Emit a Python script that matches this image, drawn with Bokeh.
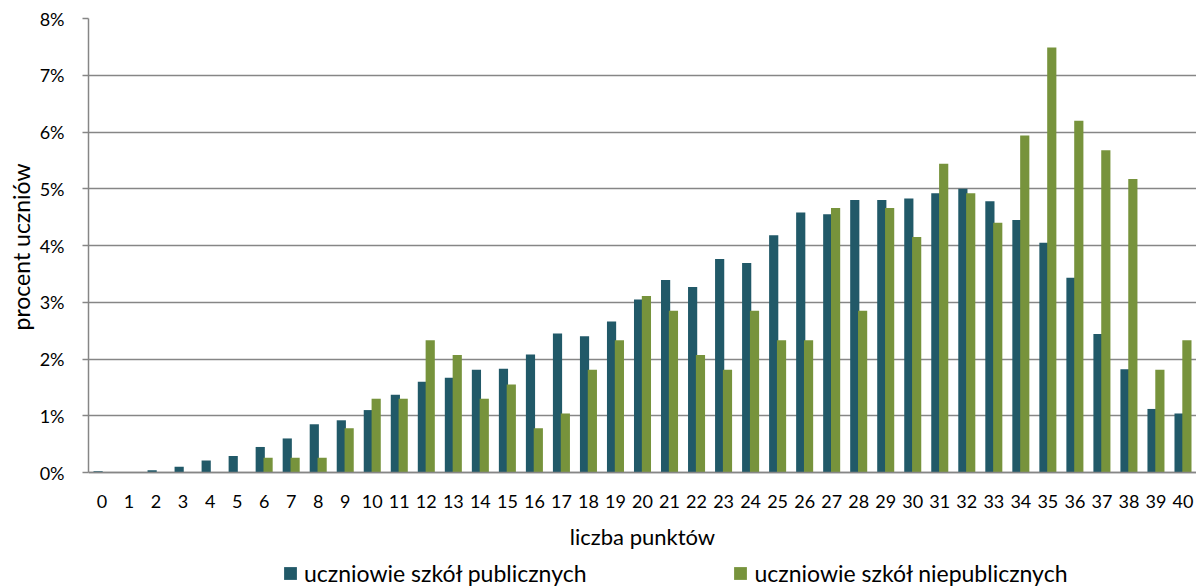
from bokeh.plotting import figure
from bokeh.models import ColumnDataSource, FactorRange, Range1d, FixedTicker, PrintfTickFormatter, Legend, LegendItem, Title
from bokeh.transform import dodge
from bokeh.embed import file_html
from bokeh.resources import INLINE

points = [str(i) for i in range(41)]
public = [0.02, 0.01, 0.04, 0.10, 0.21, 0.29, 0.45, 0.60, 0.85, 0.92,
          1.10, 1.37, 1.60, 1.67, 1.81, 1.83, 2.08, 2.45, 2.40, 2.66,
          3.05, 3.39, 3.27, 3.76, 3.69, 4.18, 4.58, 4.55, 4.80, 4.80,
          4.83, 4.92, 5.00, 4.78, 4.45, 4.05, 3.43, 2.44, 1.82, 1.12, 1.04]
nonpublic = [0, 0, 0, 0, 0, 0, 0.26, 0.26, 0.26, 0.78,
             1.30, 1.30, 2.33, 2.07, 1.30, 1.55, 0.78, 1.04, 1.81, 2.33,
             3.11, 2.85, 2.07, 1.81, 2.85, 2.33, 2.33, 4.66, 2.85, 4.66,
             4.15, 5.44, 4.92, 4.40, 5.94, 7.49, 6.20, 5.68, 5.17, 1.81, 2.33]
y_ticks = [0, 1, 2, 3, 4, 5, 6, 7, 8]
series_names = ["uczniowie szkół publicznych", "uczniowie szkół niepublicznych"]
y_label = "procent uczniów"
x_label = "liczba punktów"

TEAL = "#215968"
GREEN = "#77933C"
GRID = "#868686"
FONT = "Lato"

src = ColumnDataSource(dict(x=points, pub=public, npub=nonpublic))

# frame spans down to the bottom of the figure; the x axis sits at y = 0
p = figure(width=1196, height=588, x_range=FactorRange(*points, range_padding=0),
           y_range=Range1d(-2.044, 8), output_backend="svg", toolbar_location=None,
           min_border_left=88, min_border_right=0, min_border_top=18, min_border_bottom=0)
p.x_range.range_padding = 0

r1 = p.vbar(x=dodge("x", -0.145, range=p.x_range), top="pub", width=0.34, source=src,
            fill_color=TEAL, line_color=None)
r2 = p.vbar(x=dodge("x", 0.145, range=p.x_range), top="npub", width=0.34, source=src,
            fill_color=GREEN, line_color=None)

p.outline_line_color = None
p.xgrid.grid_line_color = None
p.ygrid.grid_line_color = GRID
p.ygrid.grid_line_width = 1.5
p.ygrid.ticker = FixedTicker(ticks=y_ticks)

p.yaxis.ticker = FixedTicker(ticks=y_ticks)
p.yaxis.bounds = (0, 8)
p.yaxis.formatter = PrintfTickFormatter(format="%d%%")
p.yaxis.axis_line_color = GRID
p.yaxis.axis_line_width = 1.5
p.yaxis.major_tick_line_color = GRID
p.yaxis.major_tick_line_width = 1.5
p.yaxis.major_tick_out = 6
p.yaxis.major_tick_in = 0
p.yaxis.minor_tick_line_color = None
p.yaxis.major_label_standoff = 18

p.xaxis.fixed_location = 0
p.xaxis.axis_line_color = GRID
p.xaxis.axis_line_width = 1.5
p.xaxis.major_tick_line_color = None
p.xaxis.major_tick_out = 0
p.xaxis.major_label_standoff = 22
p.xaxis.axis_label = x_label
p.xaxis.axis_label_standoff = 12

for ax in (p.xaxis, p.yaxis):
    ax.major_label_text_font = FONT
    ax.major_label_text_font_size = "18px"
    ax.major_label_text_color = "#000000"
    ax.axis_label_text_font = FONT
    ax.axis_label_text_font_size = "22px"
    ax.axis_label_text_font_style = "normal"
    ax.axis_label_text_color = "#000000"

# y axis title, anchored at its start and lifted so it is centred on 0%..8%
ytitle = Title(text=y_label, align="left", offset=258, standoff=4,
               text_font=FONT, text_font_size="23px", text_font_style="normal",
               text_color="#000000")
p.add_layout(ytitle, "left")

legend = Legend(items=[LegendItem(label=series_names[0], renderers=[r1]),
                       LegendItem(label=series_names[1], renderers=[r2])],
                orientation="horizontal", location=(194, 1))
legend.label_text_font = FONT
legend.label_text_font_size = "23px"
legend.label_text_color = "#000000"
legend.glyph_width = 16
legend.glyph_height = 16
legend.label_standoff = 6
legend.spacing = 146
legend.padding = 0
legend.margin = 0
legend.border_line_color = None
legend.background_fill_alpha = 0
p.add_layout(legend, "center")

open("out.html", "w").write(file_html(p, INLINE))
